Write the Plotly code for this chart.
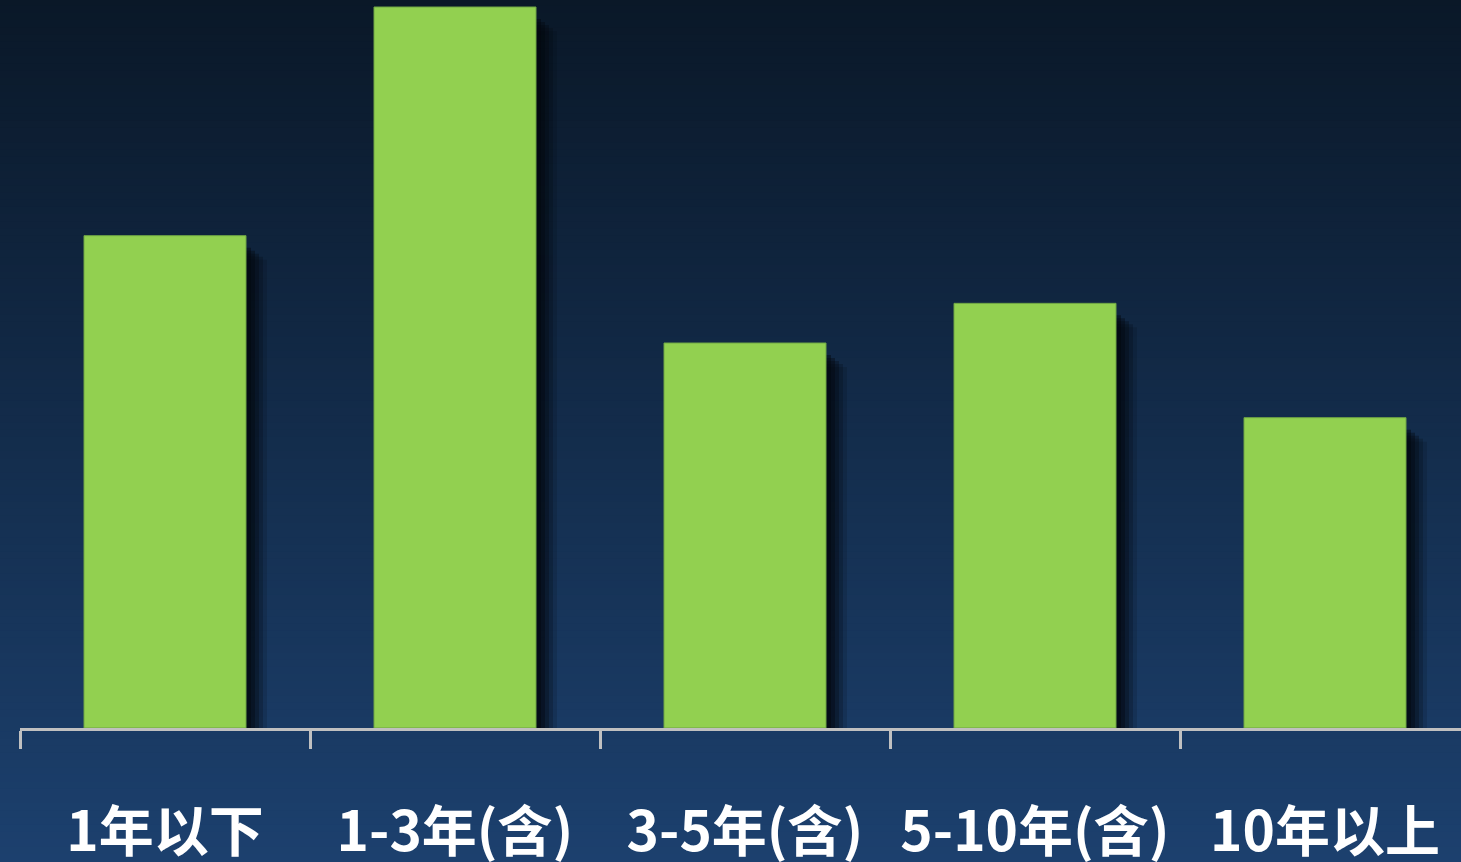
import plotly.graph_objects as go

# Share of people by length of service (%)
categories = ["1年以下", "1-3年(含)", "3-5年(含)", "5-10年(含)", "10年以上"]
shares = [21.1, 30.9, 16.5, 18.2, 13.3]

W, H = 1461, 862
ML, MB = 20, 134
CAT_PX = 290.0                      # pixel width of one category slot
plot_w = W - ML
plot_h = H - MB
y_max = 31.2
px_per_unit = plot_h / y_max
bar_w = 162 / CAT_PX

x_idx = list(range(len(categories)))

fig = go.Figure()

# soft drop shadow: several translucent dark bars, nudged right and down
shadow_layers = [(5, 12, 0.45), (9, 15, 0.38), (13, 18, 0.30), (17, 21, 0.22), (21, 24, 0.14)]
for dx, dy, op in shadow_layers:
    fig.add_trace(go.Bar(
        x=x_idx,
        y=[v - dy / px_per_unit for v in shares],
        width=bar_w,
        offset=-bar_w / 2 + dx / CAT_PX,
        marker=dict(color="#03070e", line=dict(width=0)),
        opacity=op,
        hoverinfo="skip",
        showlegend=False,
    ))

fig.add_trace(go.Bar(
    x=x_idx,
    y=shares,
    width=bar_w,
    offset=-bar_w / 2,
    marker=dict(color="#92D050", line=dict(color="#6fa544", width=1)),
    showlegend=False,
))

# vertical background gradient
top_rgb = (10, 24, 40)
bot_rgb = (28, 64, 110)
n_bands = 120
shapes = []
for i in range(n_bands):
    t = i / (n_bands - 1)
    r = round(top_rgb[0] + (bot_rgb[0] - top_rgb[0]) * t)
    g = round(top_rgb[1] + (bot_rgb[1] - top_rgb[1]) * t)
    b = round(top_rgb[2] + (bot_rgb[2] - top_rgb[2]) * t)
    y1 = 1 - i / n_bands
    y0 = 1 - (i + 1) / n_bands
    if i == n_bands - 1:
        y0 = -0.1
    shapes.append(dict(
        type="rect", xref="paper", yref="paper", layer="below",
        x0=-0.05, x1=1.05,
        y0=(y0 * H - MB) / plot_h, y1=(y1 * H - MB) / plot_h + 0.002,
        fillcolor=f"rgb({r},{g},{b})", line=dict(width=0),
    ))

fig.update_layout(
    width=W, height=H,
    margin=dict(l=ML, r=0, t=0, b=MB, pad=0, autoexpand=False),
    paper_bgcolor="#1c406e",
    plot_bgcolor="rgba(0,0,0,0)",
    barmode="overlay",
    shapes=shapes,
    xaxis=dict(
        range=[-0.5, -0.5 + plot_w / CAT_PX],
        tickvals=x_idx,
        ticktext=categories,
        ticks="",
        ticklabelstandoff=54,
        automargin=False,
        tickfont=dict(family="Noto Sans CJK SC", size=55, color="#ffffff", weight="bold"),
        showline=True, linecolor="#c0c0c0", linewidth=2.5,
        showgrid=False, zeroline=False,
        minor=dict(tick0=-0.5, dtick=1, ticks="outside", ticklen=18,
                   tickwidth=2.5, tickcolor="#c0c0c0", showgrid=False),
        fixedrange=True,
    ),
    yaxis=dict(
        range=[0, y_max],
        visible=False,
        automargin=False,
        showgrid=False, zeroline=False,
        fixedrange=True,
    ),
)

fig.write_html("out.html", config={"displayModeBar": False})
